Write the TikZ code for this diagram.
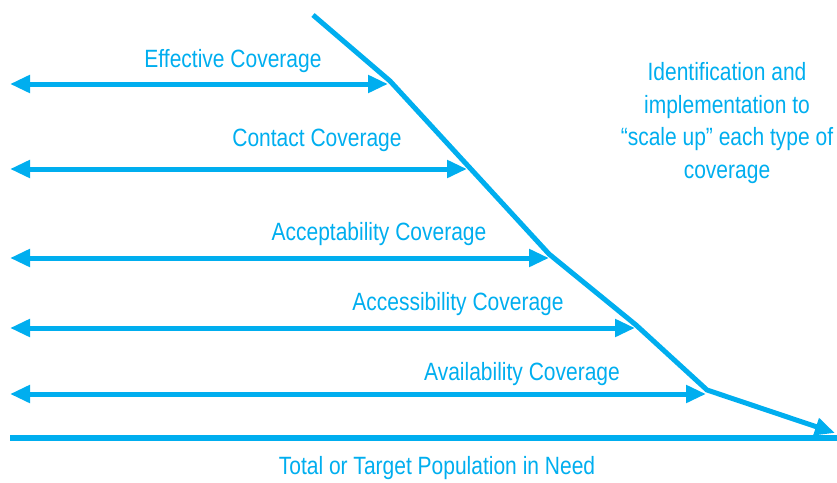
\documentclass[tikz,border=0pt]{standalone}
\usepackage{fontspec}
\setmainfont{Liberation Sans}[FakeStretch=0.84]
\usetikzlibrary{arrows.meta}
\definecolor{covblue}{RGB}{0,174,239}
\tikzset{
  covline/.style={draw=covblue, line width=5pt},
  covtip/.tip={Triangle[length=20pt,width=17pt]},
  covarrow/.style={covline, covtip-covtip},
  covlabel/.style={text=covblue, inner sep=0pt, font=\fontsize{25}{32.5}\selectfont}
}
\begin{document}
\begin{tikzpicture}[x=1pt,y=-1pt]
\useasboundingbox (0,0) rectangle (837,482);
% bend points of the coverage line
\coordinate (k0) at (313,15);
\coordinate (k1) at (390,81);
\coordinate (k2) at (549,254);
\coordinate (k3) at (636,325);
\coordinate (k4) at (707,390);
\coordinate (k5) at (835,433);
\draw[covline, -covtip] (k0) -- (k1) -- (k2) -- (k3) -- (k4) -- (k5);
% coverage arrows
\coordinate (effL) at (10,84);   \coordinate (effR) at (388,84);
\coordinate (conL) at (10,169);  \coordinate (conR) at (467,169);
\coordinate (accL) at (10,258);  \coordinate (accR) at (549,258);
\coordinate (acsL) at (10,328);  \coordinate (acsR) at (635,328);
\coordinate (avaL) at (10,394);  \coordinate (avaR) at (706,394);
\draw[covarrow] (effL) -- (effR);
\draw[covarrow] (conL) -- (conR);
\draw[covarrow] (accL) -- (accR);
\draw[covarrow] (acsL) -- (acsR);
\draw[covarrow] (avaL) -- (avaR);
\node[covlabel] (eff) at (233,61) {Effective Coverage};
\node[covlabel] (con) at (317,140) {Contact Coverage};
\node[covlabel] (acc) at (379,234) {Acceptability Coverage};
\node[covlabel] (acs) at (458,304) {Accessibility Coverage};
\node[covlabel] (ava) at (522,374) {Availability Coverage};
% base line
\coordinate (baseL) at (10,438);
\coordinate (baseR) at (837,438);
\draw[covline, line width=6pt] (baseL) -- (baseR);
\node[covlabel] (pop) at (437,468) {Total or Target Population in Need};
\node[covlabel, align=center] (scale) at (727,123)
  {Identification and\\implementation to\\“scale up” each type of\\coverage};
\end{tikzpicture}
\end{document}
